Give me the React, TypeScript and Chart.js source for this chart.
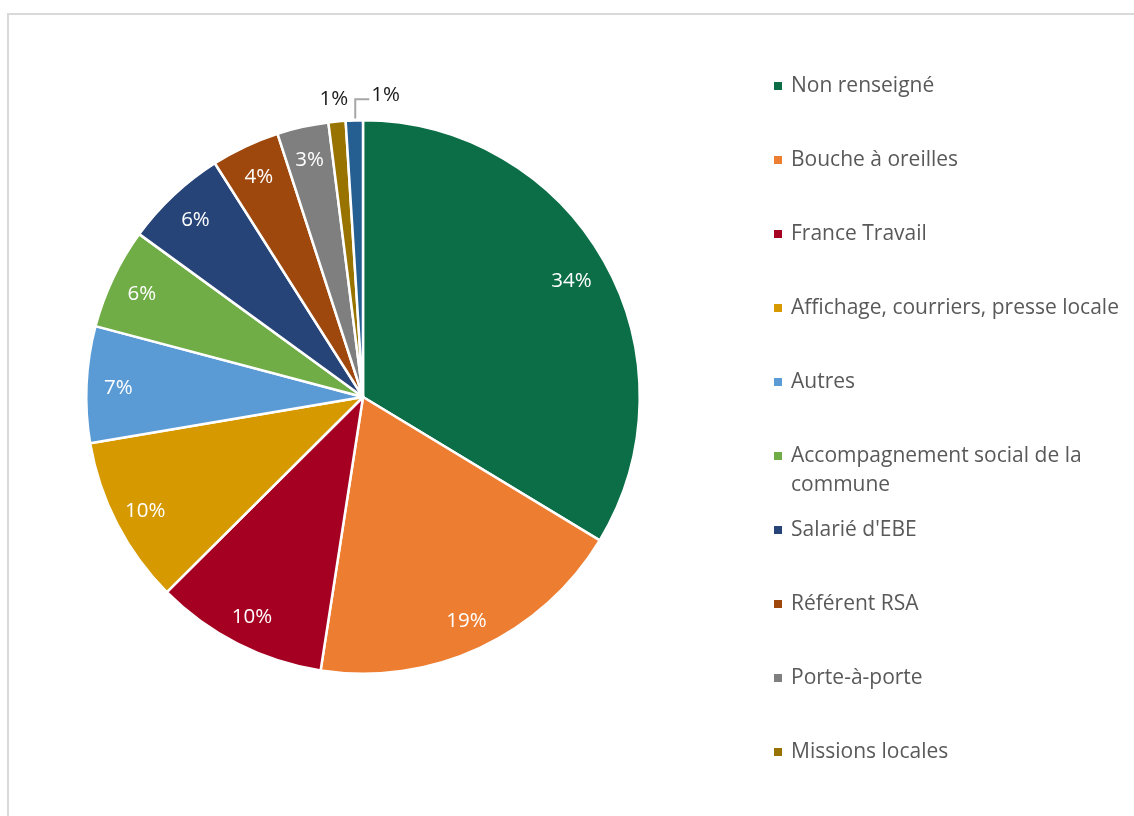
import React, { useEffect, useRef } from "react";
import { Chart, registerables } from "chart.js";

Chart.register(...registerables);

const categories = [
  "Non renseigné",
  "Bouche à oreilles",
  "France Travail",
  "Affichage, courriers, presse locale",
  "Autres",
  "Accompagnement social de la commune",
  "Salarié d'EBE",
  "Référent RSA",
  "Porte-à-porte",
  "Missions locales",
  "Divers",
];
const values = [33.7, 18.8, 10.1, 9.8, 6.8, 5.9, 6.0, 4.0, 3.0, 1.0, 1.0];
const colors = [
  "#0b6e47",
  "#ed7d31",
  "#a50021",
  "#d69a00",
  "#5b9bd5",
  "#70ad47",
  "#264478",
  "#9e480e",
  "#7f7f7f",
  "#997300",
  "#255e91",
];

const FONT = "'Open Sans', 'Noto Sans', sans-serif";

const labelPlugin = {
  id: "pctLabels",
  afterDatasetsDraw(chart: any) {
    const ctx = chart.ctx;
    const meta = chart.getDatasetMeta(0);
    const total = values.reduce((a, b) => a + b, 0);
    ctx.save();
    ctx.font = `20.5px ${FONT}`;
    ctx.textBaseline = "middle";
    const n = meta.data.length;
    meta.data.forEach((arc: any, i: number) => {
      const { x, y, startAngle, endAngle, outerRadius } = arc.getProps(
        ["x", "y", "startAngle", "endAngle", "outerRadius"],
        true
      );
      const mid = (startAngle + endAngle) / 2;
      const txt = Math.round((values[i] / total) * 100) + "%";
      if (values[i] >= 2) {
        const r = outerRadius * (i === 0 ? 0.865 : 0.885);
        ctx.fillStyle = "#ffffff";
        ctx.textAlign = "center";
        ctx.fillText(txt, x + Math.cos(mid) * r, y + Math.sin(mid) * r + 2);
      } else if (i < n - 1) {
        const r = outerRadius + 23;
        ctx.fillStyle = "#1a1a1a";
        ctx.textAlign = "center";
        ctx.fillText(txt, x + Math.cos(mid) * r - 1, y + Math.sin(mid) * r + 1);
      } else {
        const r0 = outerRadius + 2;
        const sx = x + Math.cos(mid) * r0;
        const sy = y + Math.sin(mid) * r0;
        const ey = y - (outerRadius + 21);
        ctx.strokeStyle = "#a6a6a6";
        ctx.lineWidth = 2;
        ctx.beginPath();
        ctx.moveTo(sx + 1, sy);
        ctx.lineTo(sx + 1, ey);
        ctx.lineTo(sx + 15, ey);
        ctx.stroke();
        ctx.fillStyle = "#1a1a1a";
        ctx.textAlign = "left";
        ctx.fillText(txt, sx + 17, ey - 4);
      }
    });
    ctx.restore();
  },
};

export default function App() {
  const ref = useRef<HTMLCanvasElement | null>(null);

  useEffect(() => {
    if (!ref.current) return;
    const chart = new Chart(ref.current, {
      type: "pie",
      data: {
        labels: categories,
        datasets: [
          {
            data: values,
            backgroundColor: colors,
            borderColor: "#ffffff",
            borderWidth: 2.5,
            hoverOffset: 0,
            hoverBorderWidth: 2.5,
          },
        ],
      },
      options: {
        responsive: false,
        animation: false,
        events: [],
        layout: { padding: { left: 85, right: 493, top: 119, bottom: 141 } },
        plugins: {
          legend: { display: false },
          tooltip: { enabled: false },
        },
      },
      plugins: [labelPlugin],
    });
    return () => chart.destroy();
  }, []);

  return (
    <div
      style={{
        position: "absolute",
        left: 0,
        top: 0,
        width: 1134,
        height: 816,
        overflow: "hidden",
        background: "#ffffff",
        fontFamily: FONT,
      }}
    >
      <div
        style={{
          position: "absolute",
          left: 7,
          top: 13,
          width: 1300,
          height: 1000,
          border: "2px solid #d9d9d9",
          boxSizing: "border-box",
        }}
      />
      <canvas
        ref={ref}
        width={1134}
        height={816}
        style={{ position: "absolute", left: 0, top: 0, display: "block" }}
      />
      {categories.map((c, i) => (
        <div
          key={c}
          style={{
            position: "absolute",
            left: 774,
            top: 85 + i * 74 - 15,
            width: 356,
            display: "flex",
            alignItems: "flex-start",
          }}
        >
          <div
            style={{
              width: 8,
              height: 8,
              background: colors[i],
              marginTop: 12,
              flex: "0 0 auto",
            }}
          />
          <div
            style={{
              marginLeft: 9,
              width: 340,
              fontSize: 21,
              lineHeight: "29px",
              color: "#595959",
            }}
          >
            {c}
          </div>
        </div>
      ))}
    </div>
  );
}
